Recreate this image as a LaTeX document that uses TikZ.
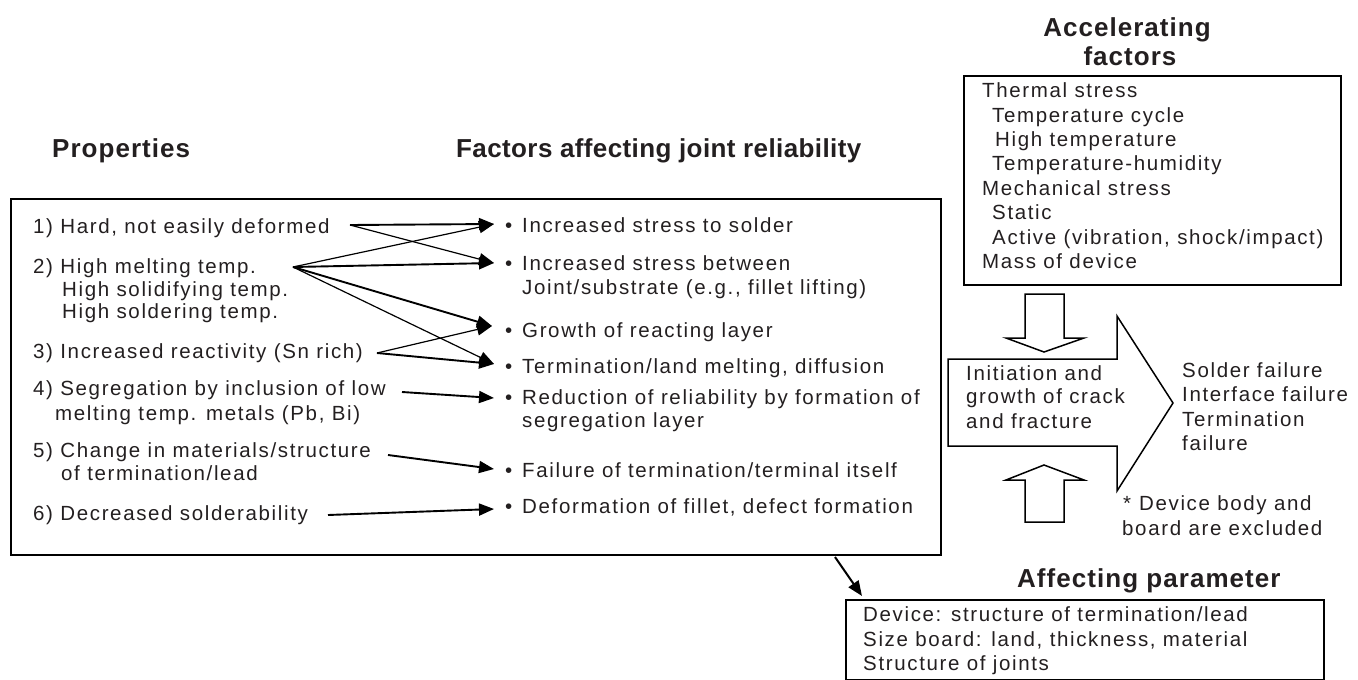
\documentclass[tikz,border=0pt]{standalone}
\usepackage{fontspec}
\setmainfont{Liberation Sans}[LetterSpace=8]
\newfontfamily\headfont{Liberation Sans}[LetterSpace=4]
\newfontfamily\headfontb{Liberation Sans}[LetterSpace=1.5]
\usetikzlibrary{arrows.meta,calc}
\definecolor{ink}{RGB}{35,31,32}
\begin{document}
\begin{tikzpicture}[x=1pt,y=-1pt,
  txt/.style={inner sep=0pt,anchor=base west,text=ink,font=\fontsize{20.5}{24}\selectfont},
  hd/.style={inner sep=0pt,anchor=base west,text=ink,font=\headfont\bfseries\fontsize{26}{30}\selectfont},
  bx/.style={draw,line width=2pt,inner sep=0pt,anchor=north west},
  arr/.style={line width=1.9pt,-{Triangle[length=15pt,width=12pt]}},
  arrthin/.style={line width=1.2pt,-{Triangle[length=15pt,width=12pt]}},
  blk/.style={draw,line width=1.5pt,fill=white,line join=miter}]
\useasboundingbox (0,0) rectangle (1358,680);

% boxes
\node[bx,minimum width=930pt,minimum height=356pt] (mainbox) at (10,198) {};
\node[bx,minimum width=377pt,minimum height=209pt] (accbox) at (963,75) {};
\node[bx,minimum width=478pt,minimum height=80pt] (parbox) at (845,599) {};

% headings
\node[hd] (hp) at (52,157) {Properties};
\node[hd,font=\headfontb\bfseries\fontsize{26}{30}\selectfont] (hf) at (456,157) {Factors affecting joint reliability};
\node[hd,anchor=base] (ha1) at (1127,36) {Accelerating};
\node[hd,anchor=base] (ha2) at (1130,65) {factors};
\node[hd] (hap) at (1017,587) {Affecting parameter};

% properties
\node[txt] (p1) at (33,233) {1) Hard, not easily deformed};
\node[txt] (p2) at (33,273) {2) High melting temp.};
\node[txt] (p2b) at (62,296) {High solidifying temp.};
\node[txt] (p2c) at (62,318) {High soldering temp.};
\node[txt] (p3) at (33,358) {3) Increased reactivity (Sn rich)};
\node[txt] (p4) at (33,395) {4) Segregation by inclusion of low};
\node[txt] (p4b) at (55,420) {melting temp. metals (Pb, Bi)};
\node[txt] (p5) at (33,457) {5) Change in materials/structure};
\node[txt] (p5b) at (61,480) {of termination/lead};
\node[txt] (p6) at (33,520) {6) Decreased solderability};

% factors
\newcommand{\bul}{\llap{\textbullet\hspace{10pt}}}
\node[txt] (ia) at (522,232) {\bul Increased stress to solder};
\node[txt] (ib) at (522,270) {\bul Increased stress between};
\node[txt] (ib2) at (522,294) {Joint/substrate (e.g., fillet lifting)};
\node[txt] (ic) at (522,337) {\bul Growth of reacting layer};
\node[txt] (id) at (522,373) {\bul Termination/land melting, diffusion};
\node[txt] (ie) at (522,404) {\bul Reduction of reliability by formation of};
\node[txt] (ie2) at (522,427) {segregation layer};
\node[txt] (if) at (522,477) {\bul Failure of termination/terminal itself};
\node[txt] (ig) at (522,513) {\bul Deformation of fillet, defect formation};

% connector ends
\coordinate (s1) at (350,225);
\coordinate (s2) at (293,267);
\coordinate (s3) at (377,353);
\coordinate (s4) at (402,392);
\coordinate (s5) at (388,455);
\coordinate (s6) at (328,515);
\coordinate (ta) at (494,224);
\coordinate (tb) at (494,263);
\coordinate (tc) at (492,326);
\coordinate (td) at (494,364);
\coordinate (te) at (494,398);
\coordinate (tf) at (494,469);
\coordinate (tg) at (494,509);

\draw[arrthin] (s1) -- (tb);
\draw[arrthin] (s2) -- (ta);
\draw[arrthin] (s2) -- (td);
\draw[arrthin] (s3) -- (tc);
\draw[arr] (s1) -- (ta);
\draw[arr] (s2) -- (tb);
\draw[arr] (s2) -- (tc);
\draw[arr] (s3) -- (td);
\draw[arr] (s4) -- (te);
\draw[arr] (s5) -- (tf);
\draw[arr] (s6) -- (tg);

% main box to parameter box
\draw[arr,line width=2pt] ($(mainbox.south west)+(825,1)$) -- ($(parbox.north west)+(17,-3)$);

% accelerating factors text
\node[txt] (af1) at (982,97) {Thermal stress};
\node[txt] (af2) at (992,122) {Temperature cycle};
\node[txt] (af3) at (995,146) {High temperature};
\node[txt] (af4) at (992,170) {Temperature-humidity};
\node[txt] (af5) at (982,195) {Mechanical stress};
\node[txt] (af6) at (992,219) {Static};
\node[txt] (af7) at (992,244) {Active (vibration, shock/impact)};
\node[txt] (af8) at (982,268) {Mass of device};

% block arrows
\draw[blk] (1025,294) -- (1064,294) -- (1064,338) -- (1084,338) -- (1044,352) -- (1006,338) -- (1025,338) -- cycle;
\draw[blk] (948,359) -- (1117,359) -- (1117,316) -- (1173,403) -- (1117,491) -- (1117,446) -- (948,446) -- cycle;
\draw[blk] (1025,522) -- (1064,522) -- (1064,480) -- (1084,480) -- (1044,465) -- (1006,480) -- (1025,480) -- cycle;

\node[txt] (c1) at (966,380) {Initiation and};
\node[txt] (c2) at (966,403) {growth of crack};
\node[txt] (c3) at (966,428) {and fracture};

\node[txt] (r1) at (1182,377) {Solder failure};
\node[txt] (r2) at (1182,401) {Interface failure};
\node[txt] (r3) at (1182,426) {Termination};
\node[txt] (r4) at (1182,450) {failure};

\node[txt] (n1) at (1123,510) {*\hspace{8pt}Device body and};
\node[txt] (n2) at (1122,535) {board are excluded};

% affecting parameter text
\node[txt] (ap1) at (863,621) {Device: structure of termination/lead};
\node[txt] (ap2) at (863,646) {Size board: land, thickness, material};
\node[txt] (ap3) at (863,670) {Structure of joints};
\end{tikzpicture}
\end{document}
